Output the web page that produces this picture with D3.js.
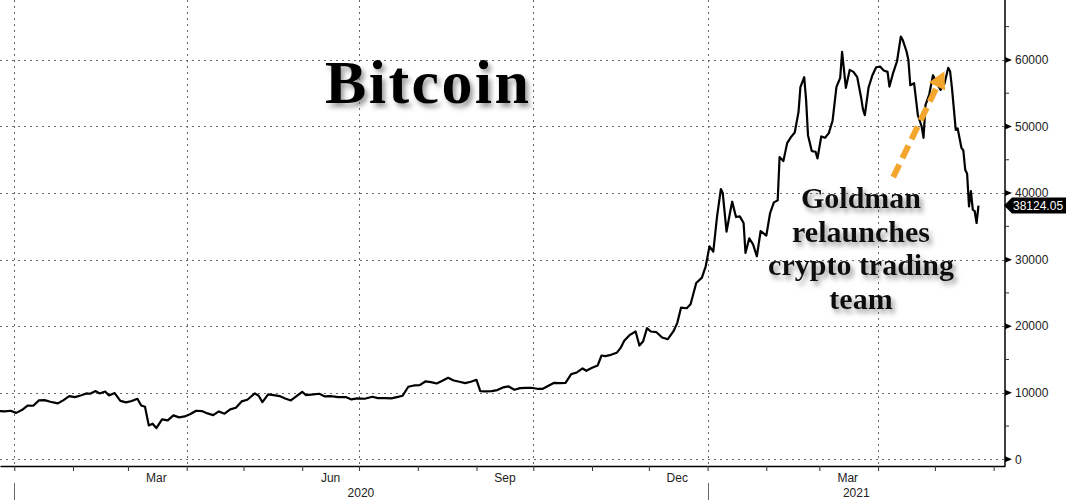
<!DOCTYPE html>
<html><head><meta charset="utf-8">
<script src="https://cdn.jsdelivr.net/npm/d3@7"></script>
<style>body{margin:0;background:#fff;} svg{display:block}</style>
</head><body>
<svg id="chart" width="1066" height="500"></svg>
<script>
// ---------- DATA ----------
const dates = ["2019-12-24","2019-12-27","2019-12-30","2020-01-02","2020-01-05","2020-01-08","2020-01-11","2020-01-14","2020-01-17","2020-01-20","2020-01-24","2020-01-27","2020-01-30","2020-02-02","2020-02-05","2020-02-08","2020-02-10","2020-02-13","2020-02-15","2020-02-18","2020-02-20","2020-02-23","2020-02-26","2020-02-29","2020-03-03","2020-03-06","2020-03-08","2020-03-10","2020-03-12","2020-03-14","2020-03-16","2020-03-19","2020-03-22","2020-03-25","2020-03-28","2020-03-31","2020-04-03","2020-04-06","2020-04-09","2020-04-12","2020-04-15","2020-04-18","2020-04-21","2020-04-24","2020-04-27","2020-04-30","2020-05-03","2020-05-07","2020-05-09","2020-05-11","2020-05-14","2020-05-17","2020-05-20","2020-05-23","2020-05-26","2020-05-29","2020-06-01","2020-06-03","2020-06-07","2020-06-10","2020-06-13","2020-06-16","2020-06-20","2020-06-24","2020-06-27","2020-06-30","2020-07-04","2020-07-08","2020-07-11","2020-07-15","2020-07-18","2020-07-21","2020-07-24","2020-07-27","2020-07-30","2020-08-02","2020-08-05","2020-08-08","2020-08-11","2020-08-14","2020-08-17","2020-08-20","2020-08-23","2020-08-26","2020-08-29","2020-09-01","2020-09-03","2020-09-06","2020-09-09","2020-09-12","2020-09-15","2020-09-18","2020-09-21","2020-09-24","2020-09-27","2020-09-30","2020-10-03","2020-10-06","2020-10-09","2020-10-12","2020-10-15","2020-10-18","2020-10-21","2020-10-24","2020-10-27","2020-10-29","2020-11-01","2020-11-04","2020-11-06","2020-11-08","2020-11-11","2020-11-14","2020-11-16","2020-11-18","2020-11-21","2020-11-24","2020-11-26","2020-11-28","2020-11-30","2020-12-02","2020-12-05","2020-12-08","2020-12-11","2020-12-14","2020-12-16","2020-12-18","2020-12-21","2020-12-23","2020-12-26","2020-12-29","2020-12-31","2021-01-02","2021-01-04","2021-01-06","2021-01-08","2021-01-09","2021-01-11","2021-01-13","2021-01-14","2021-01-16","2021-01-18","2021-01-20","2021-01-21","2021-01-23","2021-01-25","2021-01-27","2021-01-29","2021-02-01","2021-02-03","2021-02-05","2021-02-07","2021-02-08","2021-02-10","2021-02-12","2021-02-14","2021-02-16","2021-02-18","2021-02-19","2021-02-21","2021-02-22","2021-02-23","2021-02-25","2021-02-27","2021-02-28","2021-03-02","2021-03-04","2021-03-06","2021-03-08","2021-03-10","2021-03-12","2021-03-13","2021-03-15","2021-03-17","2021-03-19","2021-03-21","2021-03-23","2021-03-24","2021-03-25","2021-03-27","2021-03-29","2021-03-31","2021-04-02","2021-04-04","2021-04-06","2021-04-07","2021-04-09","2021-04-11","2021-04-13","2021-04-14","2021-04-16","2021-04-17","2021-04-18","2021-04-20","2021-04-22","2021-04-24","2021-04-25","2021-04-26","2021-04-28","2021-04-30","2021-05-02","2021-05-04","2021-05-06","2021-05-08","2021-05-09","2021-05-10","2021-05-12","2021-05-13","2021-05-15","2021-05-16","2021-05-17","2021-05-18","2021-05-19","2021-05-20","2021-05-21","2021-05-22","2021-05-23","2021-05-24"];
const prices = [7250,7200,7300,6980,7400,8080,8050,8850,8900,8650,8400,8900,9500,9350,9600,9900,9850,10250,9900,10180,9600,9950,8790,8550,8760,9100,8100,7900,5100,5350,4700,6000,5850,6600,6300,6450,6800,7300,7250,6900,6650,7200,6850,7500,7750,8700,8950,9900,9550,8600,9750,9650,9500,9150,8850,9500,10150,9650,9750,9850,9450,9500,9350,9350,9000,9150,9100,9400,9200,9200,9150,9350,9550,10900,11100,11150,11700,11600,11400,11800,12250,11850,11650,11450,11650,11950,10250,10200,10250,10400,10800,10950,10450,10700,10750,10750,10600,10600,11050,11500,11450,11500,12800,13050,13650,13300,13750,14100,15600,15500,15700,16000,16700,17800,18700,19200,17100,17750,19700,19200,19100,18300,18050,19250,20500,22800,22700,23300,26500,27300,29000,32000,31200,36500,40600,40000,34200,37300,38700,36400,36500,35500,31000,33200,32300,30500,34300,33600,37000,38600,38900,45400,44800,47500,48400,49100,52200,55900,57400,54000,48700,46300,46200,45200,48500,48300,49000,50900,55900,57300,61200,55800,58500,58200,57400,54400,52600,51700,55900,57700,58900,59000,58400,58200,56000,58100,59800,63500,63000,61300,60000,56200,56500,51700,50000,48300,53200,54800,57700,56500,55500,56400,58800,58300,55800,49500,49700,46800,46400,43500,42900,38000,40300,37500,37300,35500,38124.05];
const yTicks = [0,10000,20000,30000,40000,50000,60000];
const yMinorTicks = [5000,15000,25000,35000,45000,55000,65000];
const gridDates = ["2020-01-01","2020-04-01","2020-07-01","2020-10-01","2021-01-01","2021-04-01"];
const monthLabels = ["Mar","Jun","Sep","Dec","Mar"];
const monthLabelDates = ["2020-03-16","2020-06-16","2020-09-16","2020-12-16","2021-03-16"];
const yearLabels = ["2020","2021"];
const yearStarts = ["2020-01-01","2021-01-01"];
const lastValueLabel = "38124.05";
const titleText = "Bitcoin";
const noteLines = ["Goldman","relaunches","crypto trading","team"];
const arrowFrom = {date:"2021-04-09", value:42400};
const arrowTo = {date:"2021-05-06", value:58300};

// ---------- CHART ----------
const parse = d3.timeParse("%Y-%m-%d");
const series = dates.map((d,i)=>({date:parse(d), v:prices[i]}));
const svg = d3.select("#chart");
const W = 1066, H = 500;
const plotRight = 1005, plotBottom = 466;

const x = d3.scaleTime()
  .domain([new Date(2019,11,24,11), new Date(2021,5,7)])
  .range([0, plotRight]);
const y = d3.scaleLinear().domain([-1000, 69000]).range([plotBottom, 0]);

const defs = svg.append("defs");
const f = defs.append("filter").attr("id","shadow").attr("x","-20%").attr("y","-20%").attr("width","140%").attr("height","160%");
f.append("feDropShadow").attr("dx",3).attr("dy",4).attr("stdDeviation",2.5)
  .attr("flood-color","#666").attr("flood-opacity",0.65);

svg.append("rect").attr("width",W).attr("height",H).attr("fill","#fff");

// grid
const grid = svg.append("g").attr("stroke","#666").attr("stroke-width",1).attr("stroke-dasharray","2,4");
grid.selectAll("line.h").data(yTicks).join("line").attr("class","h")
  .attr("x1",0).attr("x2",plotRight).attr("y1",d=>Math.round(y(d))+0.5).attr("y2",d=>Math.round(y(d))+0.5);
grid.selectAll("line.v").data(gridDates.map(parse)).join("line").attr("class","v")
  .attr("x1",d=>Math.round(x(d))+0.5).attr("x2",d=>Math.round(x(d))+0.5).attr("y1",0).attr("y2",plotBottom);

// title
svg.append("text").attr("x",325).attr("y",103).text(titleText)
  .attr("font-family","'Liberation Serif','Times New Roman',serif").attr("font-weight","bold")
  .attr("font-size",62).attr("textLength",204).attr("lengthAdjust","spacing")
  .attr("fill","#000").attr("filter","url(#shadow)");

// line
svg.append("path").datum(series)
  .attr("fill","none").attr("stroke","#000").attr("stroke-width",2.2).attr("stroke-linejoin","round")
  .attr("d", d3.line().x(d=>x(d.date)).y(d=>y(d.v)));

// annotation text
const note = svg.append("text").attr("text-anchor","middle")
  .attr("font-family","'Liberation Serif','Times New Roman',serif").attr("font-weight","bold")
  .attr("font-size",30).attr("fill","#111").attr("filter","url(#shadow)");
noteLines.forEach((t,i)=>{
  note.append("tspan").attr("x",861).attr("y",208 + i*33.5).text(t);
});

// arrow
const ax1 = x(parse(arrowFrom.date)), ay1 = y(arrowFrom.value);
const ax2 = x(parse(arrowTo.date)), ay2 = y(arrowTo.value);
const ang = Math.atan2(ay2-ay1, ax2-ax1);
const headLen = 17, headW = 9;
const bx = ax2 - headLen*Math.cos(ang), by = ay2 - headLen*Math.sin(ang);
const orange = "#f2a62e";
svg.append("line").attr("x1",ax1).attr("y1",ay1).attr("x2",bx).attr("y2",by)
  .attr("stroke",orange).attr("stroke-width",6).attr("stroke-dasharray","14,7");
svg.append("path").attr("fill",orange).attr("d",
  `M${ax2},${ay2} L${bx + headW*Math.sin(ang)},${by - headW*Math.cos(ang)} L${bx - headW*Math.sin(ang)},${by + headW*Math.cos(ang)} Z`);

// x axis
const xAxis = d3.axisBottom(x).ticks(d3.timeMonth.every(1)).tickFormat("").tickSize(5).tickSizeOuter(0);
const gx = svg.append("g").attr("transform",`translate(0,${plotBottom})`).call(xAxis);
gx.select(".domain").attr("stroke","#000").attr("stroke-width",1.5);
gx.selectAll(".tick line").attr("stroke","#333");
svg.selectAll("text.mlabel").data(monthLabels).join("text").attr("class","mlabel")
  .attr("x",(d,i)=>x(parse(monthLabelDates[i]))).attr("y",482).attr("text-anchor","middle")
  .attr("font-family","'Liberation Sans',Arial,sans-serif").attr("font-size",12).attr("fill","#222").text(d=>d);
const ys = yearStarts.map(parse);
const yearCenters = [ (x(ys[0])+x(ys[1]))/2, (x(ys[1])+plotRight)/2 ];
svg.selectAll("text.ylabel").data(yearLabels).join("text").attr("class","ylabel")
  .attr("x",(d,i)=>yearCenters[i]).attr("y",497).attr("text-anchor","middle")
  .attr("font-family","'Liberation Sans',Arial,sans-serif").attr("font-size",12).attr("fill","#222").text(d=>d);
svg.selectAll("line.ysep").data(ys).join("line").attr("class","ysep")
  .attr("x1",d=>Math.round(x(d))+0.5).attr("x2",d=>Math.round(x(d))+0.5).attr("y1",483).attr("y2",500)
  .attr("stroke","#666").attr("stroke-width",1);

// y axis
svg.append("line").attr("x1",plotRight).attr("x2",plotRight).attr("y1",0).attr("y2",plotBottom)
  .attr("stroke","#000").attr("stroke-width",1.5);
svg.selectAll("path.ytri").data(yTicks).join("path").attr("class","ytri")
  .attr("d",d=>{const yy=y(d); return `M${plotRight},${yy-3} L${plotRight+7},${yy} L${plotRight},${yy+3} Z`;})
  .attr("fill","#000");
svg.selectAll("line.yminor").data(yMinorTicks).join("line").attr("class","yminor")
  .attr("x1",plotRight).attr("x2",plotRight+4).attr("y1",d=>y(d)).attr("y2",d=>y(d))
  .attr("stroke","#333").attr("stroke-width",1);
svg.selectAll("text.ytl").data(yTicks).join("text").attr("class","ytl")
  .attr("x",plotRight+10).attr("y",d=>y(d)).attr("dy","0.35em")
  .attr("font-family","'Liberation Sans',Arial,sans-serif").attr("font-size",12).attr("fill","#222")
  .text(d=>d3.format("d")(d));

// last value tag
const lastV = prices[prices.length-1];
const ly = y(lastV);
svg.append("path").attr("fill","#000")
  .attr("d",`M${plotRight-1},${ly} L${plotRight+7},${ly-8} L${W},${ly-8} L${W},${ly+8} L${plotRight+7},${ly+8} Z`);
svg.append("text").attr("x",plotRight+8).attr("y",ly).attr("dy","0.36em")
  .attr("font-family","'Liberation Sans',Arial,sans-serif").attr("font-size",12).attr("fill","#fff")
  .text(lastValueLabel);
</script>
</body></html>
